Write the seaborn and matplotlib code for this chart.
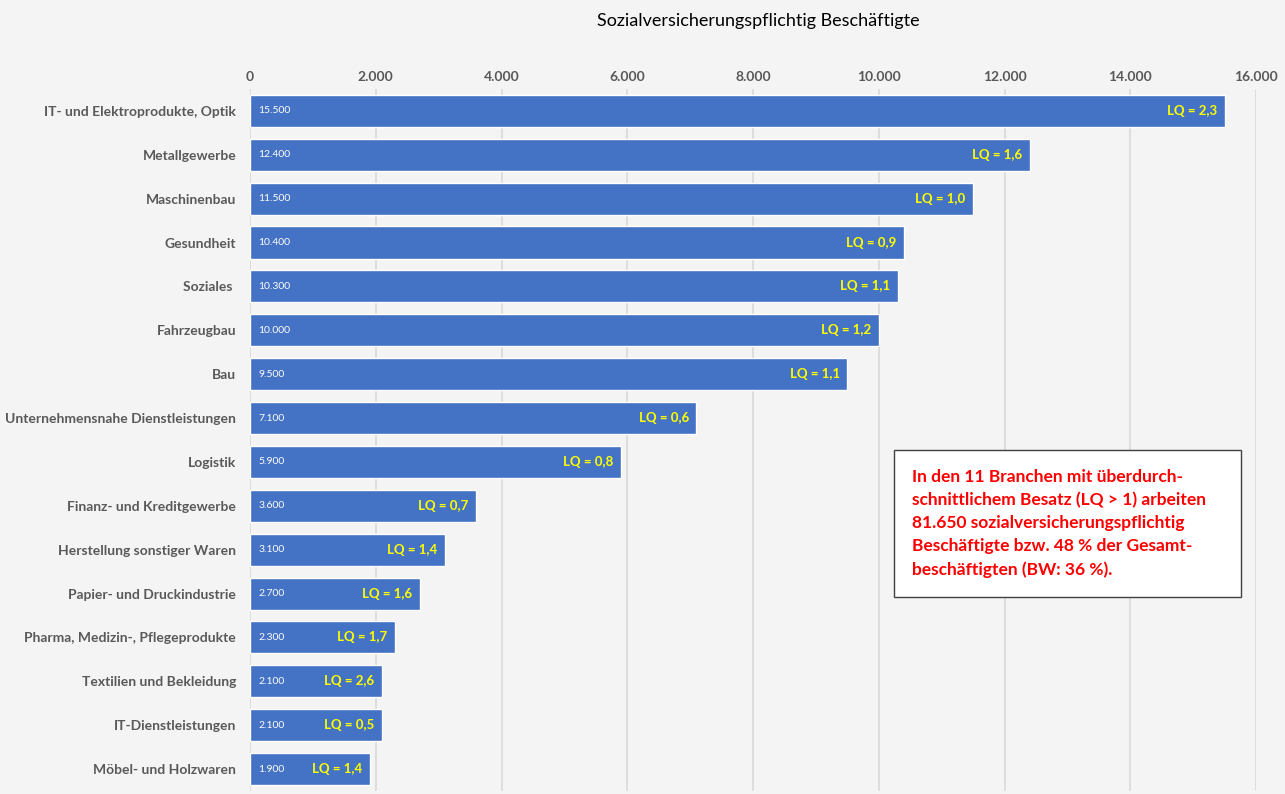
import pandas as pd
import seaborn as sns
import matplotlib
from matplotlib import pyplot as plt
from matplotlib.ticker import FuncFormatter

matplotlib.use('Agg')

branchen = ['IT- und Elektroprodukte, Optik', 'Metallgewerbe', 'Maschinenbau',
            'Gesundheit', 'Soziales ', 'Fahrzeugbau', 'Bau',
            'Unternehmensnahe Dienstleistungen', 'Logistik',
            'Finanz- und Kreditgewerbe', 'Herstellung sonstiger Waren',
            'Papier- und Druckindustrie', 'Pharma, Medizin-, Pflegeprodukte',
            'Textilien und Bekleidung', 'IT-Dienstleistungen',
            'Möbel- und Holzwaren']
beschaeftigte = [15500, 12400, 11500, 10400, 10300, 10000, 9500, 7100,
                 5900, 3600, 3100, 2700, 2300, 2100, 2100, 1900]
lq = ['2,3', '1,6', '1,0', '0,9', '1,1', '1,2', '1,1', '0,6',
      '0,8', '0,7', '1,4', '1,6', '1,7', '2,6', '0,5', '1,4']
x_ticks = [0, 2000, 4000, 6000, 8000, 10000, 12000, 14000, 16000]

BG = '#f4f4f4'
BAR = '#4472c4'
GREY = '#595959'

sns.set_style('white')
plt.rcParams['font.family'] = ['Lato', 'DejaVu Sans']

df = pd.DataFrame({'branche': branchen, 'wert': beschaeftigte, 'lq': lq})

fig = plt.figure(figsize=(12.85, 7.94), dpi=100, facecolor=BG)
ax = fig.add_axes([0.1946, 0.0038, 0.7829, 0.8842])
ax.set_facecolor(BG)

sns.barplot(data=df, x='wert', y='branche', orient='h', color=BAR,
            saturation=1, width=0.73, ax=ax, zorder=3)

ax.set_xlim(0, 16000)
ax.set_ylim(len(df) - 0.5, -0.5)
ax.set_xticks(x_ticks)
ax.xaxis.set_major_formatter(FuncFormatter(lambda v, p: f'{int(v):,}'.replace(',', '.')))
ax.xaxis.tick_top()
ax.tick_params(axis='x', length=0, pad=4, labelsize=10, labelcolor=GREY)
ax.tick_params(axis='y', length=0, pad=10, labelsize=10, labelcolor=GREY)
for lbl in ax.get_xticklabels() + ax.get_yticklabels():
    lbl.set_fontweight('bold')
ax.grid(axis='x', color='#d9d9d9', linewidth=1.2, zorder=0)
for s in ax.spines.values():
    s.set_visible(False)
ax.set_xlabel('')
ax.set_ylabel('')

# Werte und LQ in den Balken
for i, row in df.iterrows():
    ax.text(130, i, f"{row['wert']:,}".replace(',', '.'), color='white',
            fontsize=7.5, va='center', ha='left', zorder=4)
    ax.text(row['wert'] - 120, i, f"LQ = {row['lq']}", color='#ffff00',
            fontsize=9.5, fontweight='bold', va='center', ha='right', zorder=4)

fig.text(0.59, 0.974, 'Sozialversicherungspflichtig Beschäftigte',
         ha='center', va='center', fontsize=13, color='black')

box_text = ('In den 11 Branchen mit überdurch-\n'
            'schnittlichem Besatz (LQ > 1) arbeiten\n'
            '81.650 sozialversicherungspflichtig\n'
            'Beschäftigte bzw. 48 % der Gesamt-\n'
            'beschäftigten (BW: 36 %).')
fig.patches.append(matplotlib.patches.Rectangle(
    (894 / 1285, 1 - 597 / 794), 347 / 1285, 147 / 794,
    transform=fig.transFigure, facecolor='white', edgecolor='#404040',
    linewidth=1, zorder=5))
fig.text(912 / 1285, 1 - 523.5 / 794, box_text, ha='left', va='center',
         fontsize=12.5, fontweight='bold', color='#ff0000',
         linespacing=1.55, zorder=6)

fig.savefig('out.png', dpi=100, facecolor=BG)
plt.close()
